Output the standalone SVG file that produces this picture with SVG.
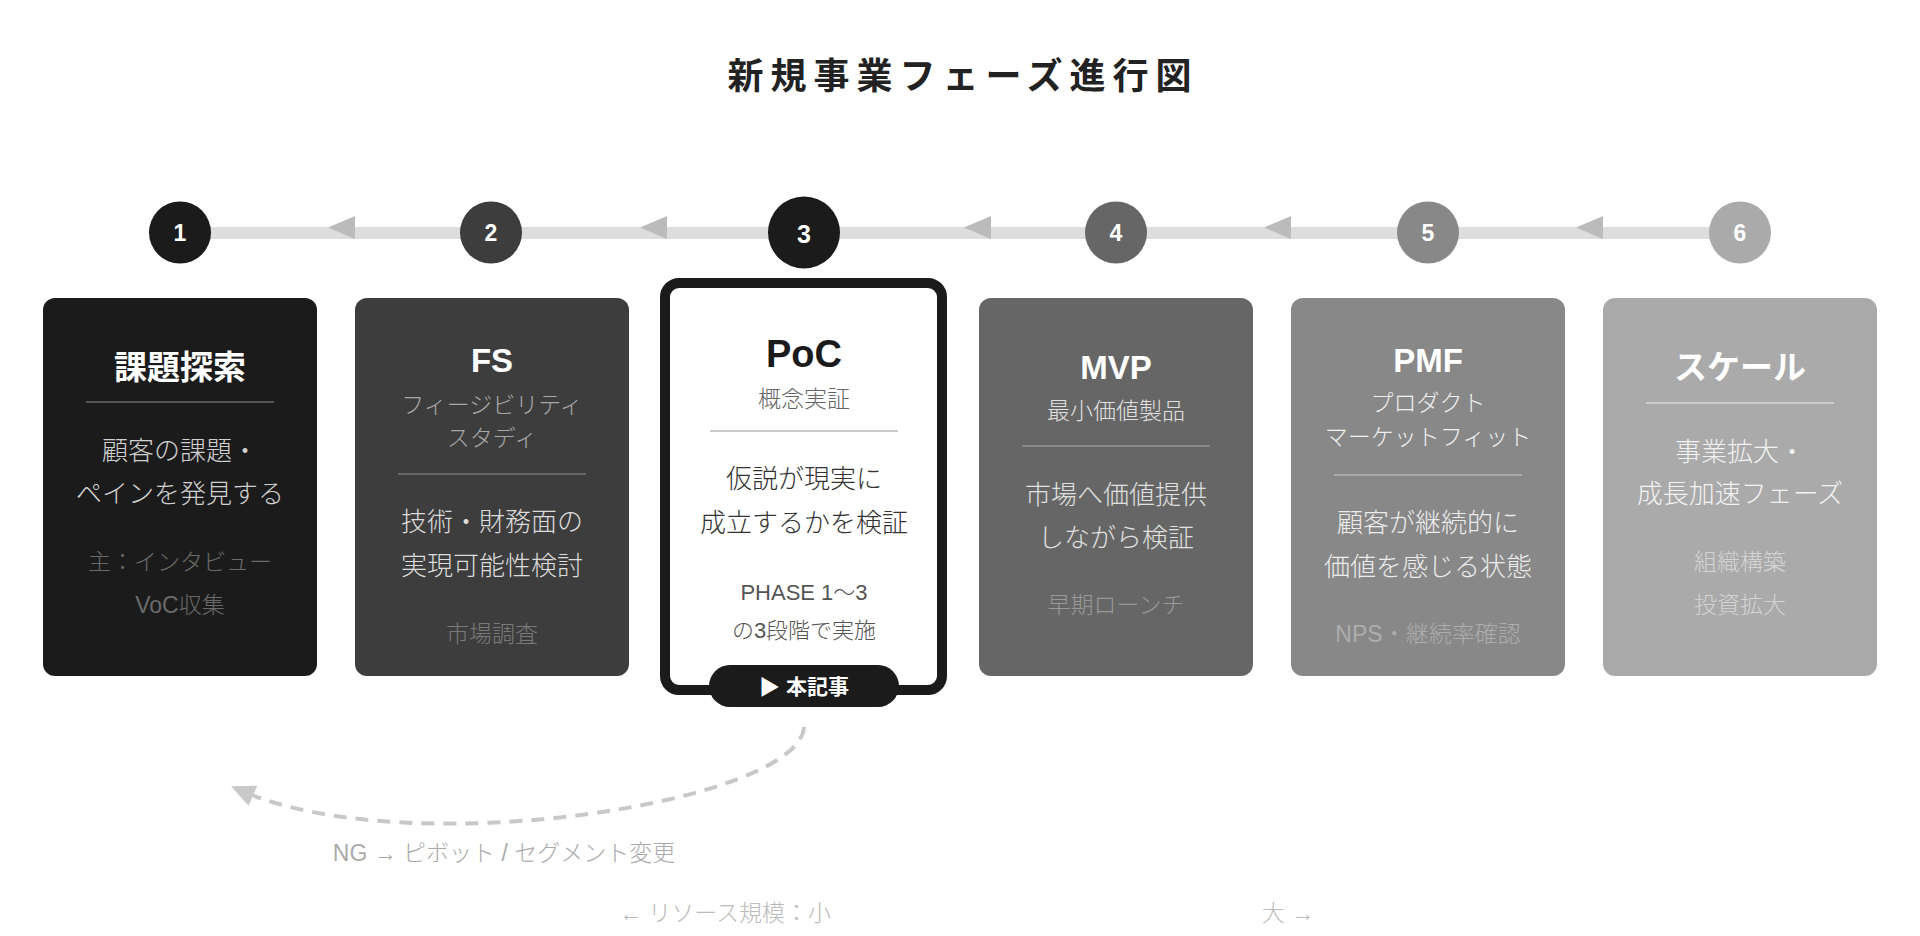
<svg xmlns="http://www.w3.org/2000/svg" width="1920" height="936" viewBox="0 0 1920 936">
<defs>
<style>
text{font-family:"Liberation Sans","Noto Sans CJK JP",sans-serif;text-anchor:middle;dominant-baseline:central}
.ttl{font-size:36px;font-weight:bold;fill:#222;letter-spacing:7px}
.num{font-size:23px;font-weight:bold;fill:#fff}
.ct{font-size:33px;font-weight:bold;fill:#fff}
.sub{font-size:23px;font-weight:300}
.body{font-size:26px;font-weight:300}
.note{font-size:23px;font-weight:300}
.lbl{font-size:23px;fill:#aaa;font-weight:300}
.div{stroke-width:2}
</style>
<marker id="ah" markerUnits="userSpaceOnUse" markerWidth="24" markerHeight="22" viewBox="0 0 24 22" refX="12" refY="11" orient="auto">
<path d="M0,0 L24,11 L0,22 z" fill="#c8c8c8"/>
</marker>
</defs>
<rect width="1920" height="936" fill="#fff"/>
<text class="ttl" x="963" y="76">新規事業フェーズ進行図</text>

<g id="connectors">
<rect x="180" y="227" width="1560" height="12" fill="#dddddd"/>
<polygon points="355,216 355,239 328,227.5" fill="#bbbbbb"/>
<polygon points="667,216 667,239 640,227.5" fill="#bbbbbb"/>
<polygon points="991,216 991,239 964,227.5" fill="#bbbbbb"/>
<polygon points="1291,216 1291,239 1264,227.5" fill="#bbbbbb"/>
<polygon points="1603,216 1603,239 1576,227.5" fill="#bbbbbb"/>
<path d="M804,727 C800,802 410,864 242,791" fill="none" stroke="#c8c8c8" stroke-width="4" stroke-dasharray="13 9" marker-end="url(#ah)"/>
</g>

<g id="step1"><circle cx="180" cy="232.5" r="31" fill="#1b1b1b"/><text class="num" x="180" y="233">1</text></g>
<g id="step2"><circle cx="491" cy="232.5" r="31" fill="#3d3d3d"/><text class="num" x="491" y="233">2</text></g>
<g id="step3"><circle cx="804" cy="232.5" r="36" fill="#1b1b1b"/><text class="num" x="804" y="234" style="font-size:25px">3</text></g>
<g id="step4"><circle cx="1116" cy="232.5" r="31" fill="#666"/><text class="num" x="1116" y="233">4</text></g>
<g id="step5"><circle cx="1428" cy="232.5" r="31" fill="#888"/><text class="num" x="1428" y="233">5</text></g>
<g id="step6"><circle cx="1740" cy="232.5" r="31" fill="#aaa"/><text class="num" x="1740" y="233">6</text></g>

<g id="card1">
<rect x="43" y="298" width="274" height="378" rx="12" fill="#1b1b1b"/>
<text class="ct" x="180" y="367">課題探索</text>
<line class="div" x1="86" y1="402" x2="274" y2="402" stroke="#555"/>
<text class="body" x="180" y="451" fill="#d0d0d0">顧客の課題・</text>
<text class="body" x="180" y="494" fill="#d0d0d0">ペインを発見する</text>
<text class="note" x="180" y="562" fill="#6a6a6a">主：インタビュー</text>
<text class="note" x="180" y="605" fill="#6a6a6a">VoC収集</text>
</g>

<g id="card2">
<rect x="355" y="298" width="274" height="378" rx="12" fill="#3d3d3d"/>
<text class="ct" x="492" y="360">FS</text>
<text class="sub" x="492" y="405" fill="#a8a8a8">フィージビリティ</text>
<text class="sub" x="492" y="438" fill="#a8a8a8">スタディ</text>
<line class="div" x1="398" y1="474" x2="586" y2="474" stroke="#666"/>
<text class="body" x="492" y="522" fill="#dcdcdc">技術・財務面の</text>
<text class="body" x="492" y="566" fill="#dcdcdc">実現可能性検討</text>
<text class="note" x="492" y="634" fill="#7a7a7a">市場調査</text>
</g>

<g id="card3">
<rect x="665" y="283" width="277" height="407" rx="14" fill="#fff" stroke="#1b1b1b" stroke-width="10"/>
<text class="ct" x="804" y="354" style="font-size:38px;fill:#1b1b1b">PoC</text>
<text class="sub" x="804" y="399" fill="#666">概念実証</text>
<line class="div" x1="710" y1="431" x2="898" y2="431" stroke="#ccc"/>
<text class="body" x="804" y="479" fill="#333">仮説が現実に</text>
<text class="body" x="804" y="523" fill="#333">成立するかを検証</text>
<text class="note" x="804" y="592" fill="#555" style="font-size:22px">PHASE 1〜3</text>
<text class="note" x="804" y="630" fill="#555" style="font-size:22px">の3段階で実施</text>
<rect x="709" y="665" width="190" height="42" rx="21" fill="#1b1b1b"/>
<text x="804" y="686" style="font-size:21px;font-weight:bold;fill:#fff">▶ 本記事</text>
</g>

<g id="card4">
<rect x="979" y="298" width="274" height="378" rx="12" fill="#666"/>
<text class="ct" x="1116" y="367">MVP</text>
<text class="sub" x="1116" y="411" fill="#e0e0e0">最小価値製品</text>
<line class="div" x1="1022" y1="446" x2="1210" y2="446" stroke="#888"/>
<text class="body" x="1116" y="495" fill="#e0e0e0">市場へ価値提供</text>
<text class="body" x="1116" y="538" fill="#e0e0e0">しながら検証</text>
<text class="note" x="1116" y="605" fill="#999">早期ローンチ</text>
</g>

<g id="card5">
<rect x="1291" y="298" width="274" height="378" rx="12" fill="#888"/>
<text class="ct" x="1428" y="360">PMF</text>
<text class="sub" x="1428" y="403" fill="#f0f0f0">プロダクト</text>
<text class="sub" x="1428" y="437" fill="#f0f0f0">マーケットフィット</text>
<line class="div" x1="1334" y1="475" x2="1522" y2="475" stroke="#aaa"/>
<text class="body" x="1428" y="523" fill="#ececec">顧客が継続的に</text>
<text class="body" x="1428" y="567" fill="#ececec">価値を感じる状態</text>
<text class="note" x="1428" y="634" fill="#adadad">NPS・継続率確認</text>
</g>

<g id="card6">
<rect x="1603" y="298" width="274" height="378" rx="12" fill="#aaa"/>
<text class="ct" x="1740" y="367">スケール</text>
<line class="div" x1="1646" y1="403" x2="1834" y2="403" stroke="#ccc"/>
<text class="body" x="1740" y="452" fill="#f2f2f2">事業拡大・</text>
<text class="body" x="1740" y="494" fill="#f2f2f2">成長加速フェーズ</text>
<text class="note" x="1740" y="562" fill="#d4d4d4">組織構築</text>
<text class="note" x="1740" y="605" fill="#d4d4d4">投資拡大</text>
</g>

<g id="labels">
<text class="lbl" x="504" y="853">NG → ピボット / セグメント変更</text>
<text class="lbl" x="725" y="913" style="fill:#bbb">← リソース規模：小</text>
<text class="lbl" x="1288" y="913" style="fill:#bbb">大 →</text>
</g>
</svg>
